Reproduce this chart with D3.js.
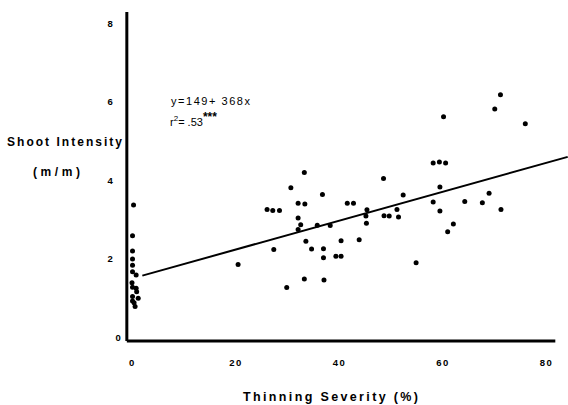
<!DOCTYPE html>
<html>
<head>
  <meta charset='utf-8'>
  <title>Shoot Intensity vs Thinning Severity</title>
  <script src='https://cdn.jsdelivr.net/npm/d3@7/dist/d3.min.js'></script>
  <style type='text/css'>
    body { margin: 0; background: #fff; }
    svg { display: block; }
    text { font-family: 'Liberation Sans', Arial, sans-serif; fill: #000; }
    .tick text { font-size: 9.5px; font-weight: bold; letter-spacing: 1.5px; }
  </style>
</head>
<body>
  <div id='plot-container'></div>
  <script>
    // thinning severity (%) and shoot intensity (m/m)
    const thinning = [
      0.3, 0.1, 0.1, 0.1, 0.1, 0.1, 0.8, 0.0, 0.1, 0.8, 0.9, 0.1, 1.2, 0.1, 0.4, 0.6,
      20.5, 26.1, 27.2, 28.5, 27.4, 29.9, 30.7, 32.1, 33.4, 33.3, 32.1, 32.6, 32.1,
      33.6, 34.7, 33.3, 35.8, 36.8, 38.3, 37.0, 37.0, 37.1, 40.4, 39.4, 40.4, 41.6,
      42.8, 43.9, 45.4, 45.2, 45.3, 48.6, 48.7, 49.7, 51.2, 51.5, 52.4, 54.9, 58.2,
      59.4, 60.6, 58.2, 59.5, 59.5, 60.2, 62.1, 61.0, 64.3, 67.7, 69.0, 71.3, 71.2,
      70.1, 76.0
    ];
    const shoot = [
      3.36, 2.58, 2.19, 1.99, 1.83, 1.66, 1.58, 1.38, 1.27, 1.24, 1.15, 1.03, 0.99, 0.92, 0.87, 0.78,
      1.85, 3.25, 3.22, 3.22, 2.23, 1.26, 3.80, 3.41, 3.39, 4.19, 3.03, 2.86, 2.74,
      2.44, 2.24, 1.48, 2.85, 3.63, 2.84, 2.25, 2.02, 1.45, 2.45, 2.06, 2.06, 3.41,
      3.41, 2.48, 3.24, 3.08, 2.90, 4.04, 3.09, 3.08, 3.25, 3.06, 3.62, 1.89, 4.43,
      4.46, 4.43, 3.44, 3.82, 3.21, 5.61, 2.88, 2.68, 3.45, 3.42, 3.66, 3.25, 6.17,
      5.81, 5.43
    ];
    const xTicks = [0, 20, 40, 60, 80];
    const yTicks = [0, 2, 4, 6, 8];
    // fitted line y = 1.49 + .0368x, drawn over this span of x
    const intercept = 1.49;
    const slope = 0.0368;
    const fitSpan = [2, 84.2];

    const width = 568, height = 405;
    const svg = d3.select('#plot-container').append('svg')
        .attr('width', width)
        .attr('height', height);

    const x = d3.scaleLinear().domain([0, 80]).range([132, 546]);
    const y = d3.scaleLinear().domain([0, 8]).range([337, 23]);

    // axes: thick hand-ruled lines
    svg.append('line')
        .attr('x1', x(-1)).attr('x2', x(-1))
        .attr('y1', y(-0.1)).attr('y2', y(8.28))
        .attr('stroke', '#000').attr('stroke-width', 3);
    svg.append('line')
        .attr('x1', x(-1)).attr('x2', x(81.8))
        .attr('y1', y(-0.1)).attr('y2', y(-0.1))
        .attr('stroke', '#000').attr('stroke-width', 3);

    const yAxis = svg.append('g')
        .attr('transform', `translate(${x(-1)}, 0)`)
        .call(d3.axisLeft(y).tickValues(yTicks).tickSize(0).tickPadding(12));
    yAxis.select('.domain').remove();
    yAxis.selectAll('.tick text').attr('text-anchor', 'middle').attr('x', -16);
    yAxis.selectAll('.tick').filter(d => d === 0).select('text').attr('x', -8);

    const xAxis = svg.append('g')
        .attr('transform', `translate(0, ${y(-0.1)})`)
        .call(d3.axisBottom(x).tickValues(xTicks).tickSize(0).tickPadding(18));
    xAxis.select('.domain').remove();

    // axis titles
    svg.append('text')
        .attr('x', 7).attr('y', 146)
        .attr('textLength', 115).attr('lengthAdjust', 'spacing')
        .style('font-size', '12px').style('font-weight', 'bold')
        .text('Shoot Intensity');
    svg.append('text')
        .attr('x', 33).attr('y', 176)
        .attr('textLength', 47).attr('lengthAdjust', 'spacing')
        .style('font-size', '12px').style('font-weight', 'bold')
        .text('(m/m)');
    svg.append('text')
        .attr('x', 243).attr('y', 401)
        .attr('textLength', 175).attr('lengthAdjust', 'spacing')
        .style('font-size', '12.5px').style('font-weight', 'bold')
        .text('Thinning Severity (%)');

    // regression equation
    svg.append('text')
        .attr('x', 171).attr('y', 105)
        .attr('textLength', 79).attr('lengthAdjust', 'spacing')
        .style('font-size', '11px')
        .text('y=149+ 368x');
    const r2 = svg.append('text')
        .attr('x', 170).attr('y', 126)
        .style('font-size', '11px');
    r2.append('tspan').text('r');
    r2.append('tspan').attr('dy', -5).style('font-size', '8px').text('2');
    r2.append('tspan').attr('dy', 5).text('= .53');
    r2.append('tspan').attr('dy', -5).style('font-size', '12px').style('font-weight', 'bold').text('***');

    // fitted line
    const fit = fitSpan.map(v => [v, intercept + slope * v]);
    svg.append('path')
        .datum(fit)
        .attr('fill', 'none')
        .attr('stroke', '#000')
        .attr('stroke-width', 2)
        .attr('d', d3.line().x(d => x(d[0])).y(d => y(d[1])));

    // observations
    svg.append('g')
        .selectAll('circle')
        .data(thinning.map((t, i) => ({ t: t, s: shoot[i] })))
        .enter()
        .append('circle')
        .attr('cx', d => x(d.t))
        .attr('cy', d => y(d.s))
        .attr('r', 2.5)
        .attr('fill', '#000');
  </script>
</body>
</html>
